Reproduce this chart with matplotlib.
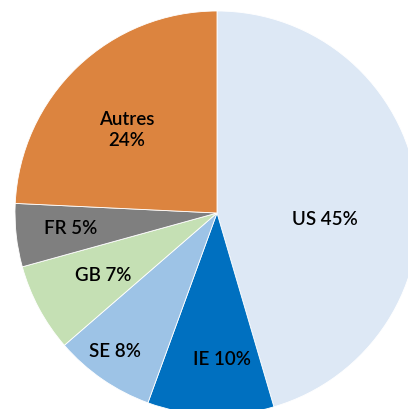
import numpy as np
import matplotlib
matplotlib.use("Agg")
import matplotlib.pyplot as plt

############################################
# data
labels = ["US", "IE", "SE", "GB", "FR", "Autres"]
shares = [45, 10, 8, 7, 5, 24]
colors = ["#DDE8F5", "#0070C0", "#9DC3E6", "#C5E0B4", "#7F7F7F", "#DC843F"]

# label placement (radius fraction, angle nudge in degrees)
label_r = [0.535, 0.72, 0.85, 0.64, 0.73, 0.61]
label_dang = [-11.2, 3.8, -2.0, 0.3, -0.6, 3.4]

#############################################
## plotting
W, H = 408, 410
cx, cy, R = 217, 214, 202   # pie centre / radius in pixels

fig = plt.figure(figsize=(W / 100, H / 100), dpi=100)
ax = fig.add_axes([0, 0, 1, 1])

wedges, _ = ax.pie(shares, colors=colors, startangle=90, counterclock=False,
                   radius=1.0, wedgeprops=dict(edgecolor="white", linewidth=0.6))

ax.set_xlim(-cx / R, (W - cx) / R)
ax.set_ylim(-(H - cy) / R, cy / R)
ax.set_aspect("auto")
ax.axis("off")

for w, lab, val, r, da in zip(wedges, labels, shares, label_r, label_dang):
    mid = np.deg2rad((w.theta1 + w.theta2) / 2 + da)
    txt = "%s\n%d%%" % (lab, val) if lab == "Autres" else "%s %d%%" % (lab, val)
    ax.text(r * np.cos(mid), r * np.sin(mid), txt, ha="center", va="center",
            fontsize=13.5, family="Lato", fontweight="semibold", color="black",
            linespacing=1.3)

fig.savefig("out.png", dpi=100)
